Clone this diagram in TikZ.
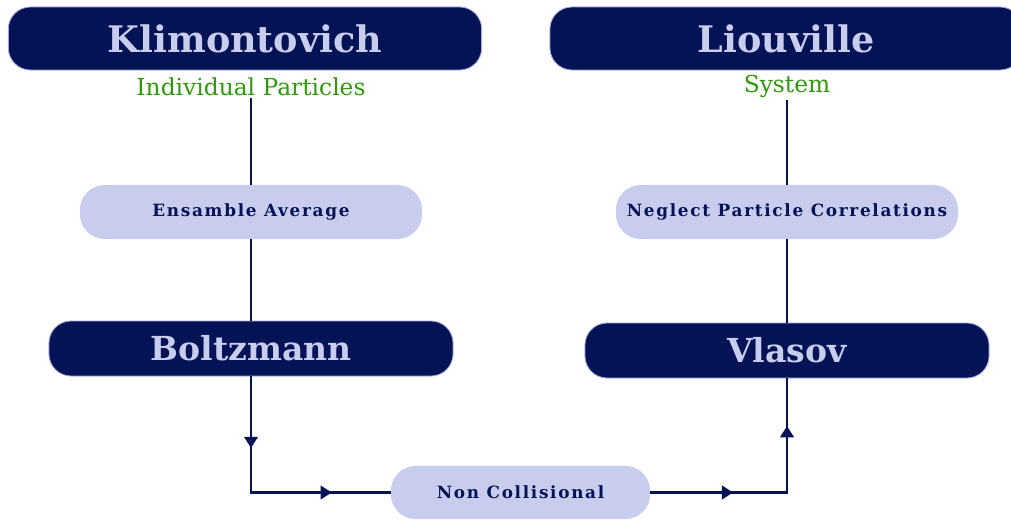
\documentclass[tikz,border=0pt]{standalone}
\usepackage{fontspec}
\setmainfont{DejaVu Serif}
\newfontfamily\spacedfont[LetterSpace=10]{DejaVu Serif}
\usetikzlibrary{positioning, arrows.meta, decorations.markings}

\definecolor{navy}{HTML}{041256}
\definecolor{lavender}{HTML}{C8CDEE}
\definecolor{rimcol}{HTML}{A4AADC}
\definecolor{leafgreen}{HTML}{2E9A0C}

\begin{document}
\begin{tikzpicture}[x=0.025cm, y=-0.025cm,
    model/.style={draw=rimcol, line width=0.6pt, fill=navy, text=lavender,
        rounded corners=0.55cm, inner sep=0pt,
        font=\fontsize{26}{30}\selectfont\bfseries},
    assume/.style={fill=lavender, text=navy, rounded corners=0.62cm, inner sep=0pt,
        minimum width=8.55cm, minimum height=1.35cm,
        font=\spacedfont\fontsize{12}{14}\selectfont\bfseries},
    scope label/.style={text=leafgreen, inner sep=1.5pt,
        font=\fontsize{16.6}{18}\selectfont},
    link/.style={draw=navy, line width=2pt},
    twoarrows/.style 2 args={postaction={decorate}, decoration={markings,
        mark=at position #1 with {\arrow{Triangle[width=9.5pt,length=8pt]}},
        mark=at position #2 with {\arrow{Triangle[width=9.5pt,length=8pt]}}}}
]
\useasboundingbox (0,0) rectangle (1011,521);

% kinetic models (dark boxes)
\node[model, minimum width=11.83cm, minimum height=1.575cm] (klim) at (245,38.5) {Klimontovich};
\node[model, minimum width=11.8cm, minimum height=1.575cm] (liou) at (786,38.5) {Liouville};
\node[model, minimum width=10.1cm, minimum height=1.375cm, font=\fontsize{23.5}{28}\selectfont\bfseries] (boltz) at (251,348.5) {Boltzmann};
\node[model, minimum width=10.1cm, minimum height=1.375cm, font=\fontsize{23.5}{28}\selectfont\bfseries] (vlas) at (787,350.5) {Vlasov};

% what each model describes
\node[scope label] (ipart) at (251,87) {Individual Particles};
\node[scope label] (sys) at (787,86) {System};

% assumptions (light boxes)
\node[assume] (ensavg) at (251,212) {Ensamble Average};
\node[assume] (neglect) at (787,212) {Neglect Particle Correlations};
\node[assume, minimum width=6.48cm, minimum height=1.33cm] (noncoll) at (520.5,492.5) {Non Collisional};

% connectors
\draw[link] (ipart) -- (ensavg);
\draw[link] (ensavg) -- (boltz);
\draw[link] (sys) -- (neglect);
\draw[link] (neglect) -- (vlas);
\draw[link, twoarrows={0.28}{0.77}] (boltz.south) |- (noncoll.west);
\draw[link, twoarrows={0.33}{0.81}] (noncoll.east) -| (vlas.south);

\end{tikzpicture}
\end{document}
